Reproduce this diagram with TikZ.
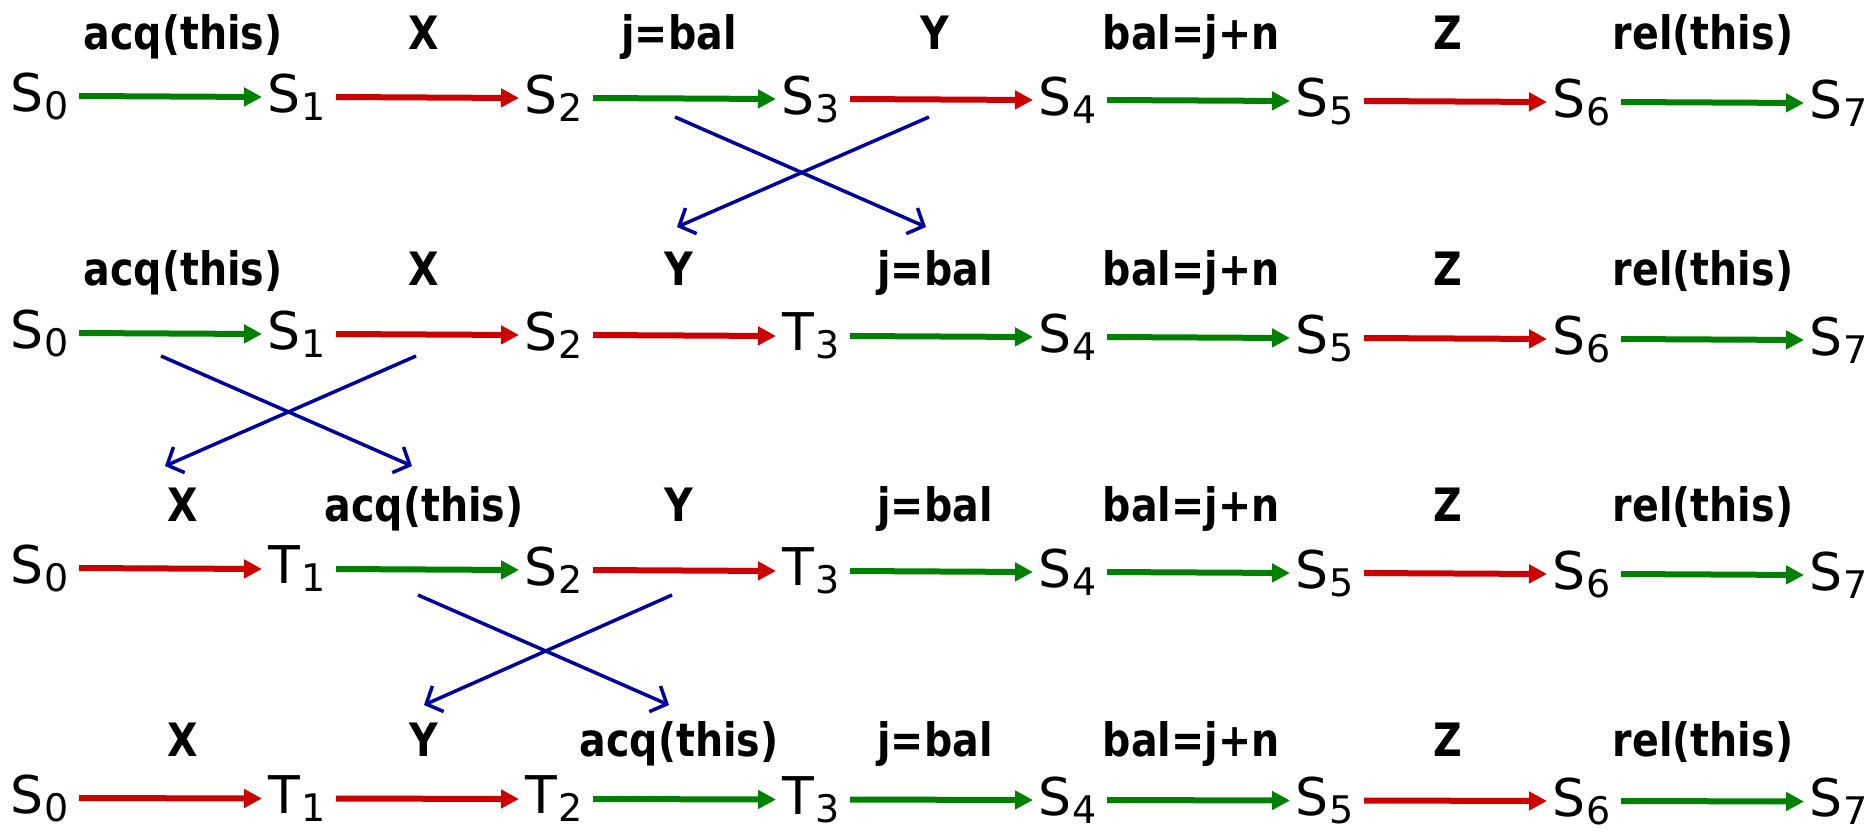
\documentclass[tikz,border=0pt]{standalone}
\usepackage{fontspec}
\usepackage{graphicx}
\setmainfont{DejaVu Sans}
\usetikzlibrary{arrows.meta}
\definecolor{tgreen}{RGB}{0,128,0}
\definecolor{tred}{RGB}{204,0,0}
\definecolor{tblue}{RGB}{0,0,160}
\newcommand\stlbl[2]{#1\kern1pt\raisebox{-8pt}{\fontsize{38}{38}\selectfont #2}}
\newcommand\lbltxt[1]{\scalebox{0.86}[1]{#1}}
\tikzset{
  state/.style={inner sep=0pt, font=\fontsize{52}{52}\selectfont},
  lbl/.style={anchor=base, inner sep=0pt, font=\fontsize{46}{46}\selectfont\bfseries},
  trans/.style={draw=#1, line width=6pt, -{Triangle[length=18pt,width=18pt]}},
  swaparrow/.style={draw=tblue, line width=3.5pt, -{Straight Barb[length=13pt,width=28pt]}},
}
\begin{document}
\begin{tikzpicture}[x=1pt,y=-1pt]
\useasboundingbox (0,0) rectangle (1873,833);
% row 1
\foreach \k/\L in {0/S,1/S,2/S,3/S,4/S,5/S,6/S,7/S}
  \node[state] (ra\k) at ({40+257*\k},{96+\k}) {\stlbl{\L}{\k}};
\foreach \k/\c/\t/\lx in {0/tgreen/acq(this)/183,1/tred/X/424,2/tgreen/j=bal/679,3/tred/Y/935,4/tgreen/bal=j+n/1191,5/tred/Z/1448,6/tgreen/rel(this)/1703}{
  \pgfmathtruncatemacro\kk{\k+1}
  \draw[trans=\c] ([xshift=39pt]ra\k.center) -- ([xshift=-35pt]ra\kk.center);
  \node[lbl] (la\k) at (\lx,49) {\lbltxt{\t}};
}
% row 2
\foreach \k/\L in {0/S,1/S,2/S,3/T,4/S,5/S,6/S,7/S}
  \node[state] (rb\k) at ({40+257*\k},{333+\k}) {\stlbl{\L}{\k}};
\foreach \k/\c/\t/\lx in {0/tgreen/acq(this)/183,1/tred/X/424,2/tred/Y/679,3/tgreen/j=bal/935,4/tgreen/bal=j+n/1191,5/tred/Z/1448,6/tgreen/rel(this)/1703}{
  \pgfmathtruncatemacro\kk{\k+1}
  \draw[trans=\c] ([xshift=39pt]rb\k.center) -- ([xshift=-35pt]rb\kk.center);
  \node[lbl] (lb\k) at (\lx,285) {\lbltxt{\t}};
}
% row 3
\foreach \k/\L in {0/S,1/T,2/S,3/T,4/S,5/S,6/S,7/S}
  \node[state] (rc\k) at ({40+257*\k},{568+\k}) {\stlbl{\L}{\k}};
\foreach \k/\c/\t/\lx in {0/tred/X/183,1/tgreen/acq(this)/424,2/tred/Y/679,3/tgreen/j=bal/935,4/tgreen/bal=j+n/1191,5/tred/Z/1448,6/tgreen/rel(this)/1703}{
  \pgfmathtruncatemacro\kk{\k+1}
  \draw[trans=\c] ([xshift=39pt]rc\k.center) -- ([xshift=-35pt]rc\kk.center);
  \node[lbl] (lc\k) at (\lx,521) {\lbltxt{\t}};
}
% row 4
\foreach \k/\L in {0/S,1/T,2/T,3/T,4/S,5/S,6/S,7/S}
  \node[state] (rd\k) at ({40+257*\k},{798+0.5*\k}) {\stlbl{\L}{\k}};
\foreach \k/\c/\t/\lx in {0/tred/X/183,1/tred/Y/424,2/tgreen/acq(this)/679,3/tgreen/j=bal/935,4/tgreen/bal=j+n/1191,5/tred/Z/1448,6/tgreen/rel(this)/1703}{
  \pgfmathtruncatemacro\kk{\k+1}
  \draw[trans=\c] ([xshift=39pt]rd\k.center) -- ([xshift=-35pt]rd\kk.center);
  \node[lbl] (ld\k) at (\lx,756) {\lbltxt{\t}};
}
% swaps
\coordinate (xa1) at (675,117); \coordinate (xa2) at (926,227);
\coordinate (xa3) at (929,117); \coordinate (xa4) at (677,227);
\coordinate (xb1) at (161,356); \coordinate (xb2) at (412,466);
\coordinate (xb3) at (416,356); \coordinate (xb4) at (165,466);
\coordinate (xc1) at (418,595); \coordinate (xc2) at (669,705);
\coordinate (xc3) at (672,595); \coordinate (xc4) at (424,705);
\draw[swaparrow] (xa1) -- (xa2);
\draw[swaparrow] (xa3) -- (xa4);
\draw[swaparrow] (xb1) -- (xb2);
\draw[swaparrow] (xb3) -- (xb4);
\draw[swaparrow] (xc1) -- (xc2);
\draw[swaparrow] (xc3) -- (xc4);
\end{tikzpicture}
\end{document}
